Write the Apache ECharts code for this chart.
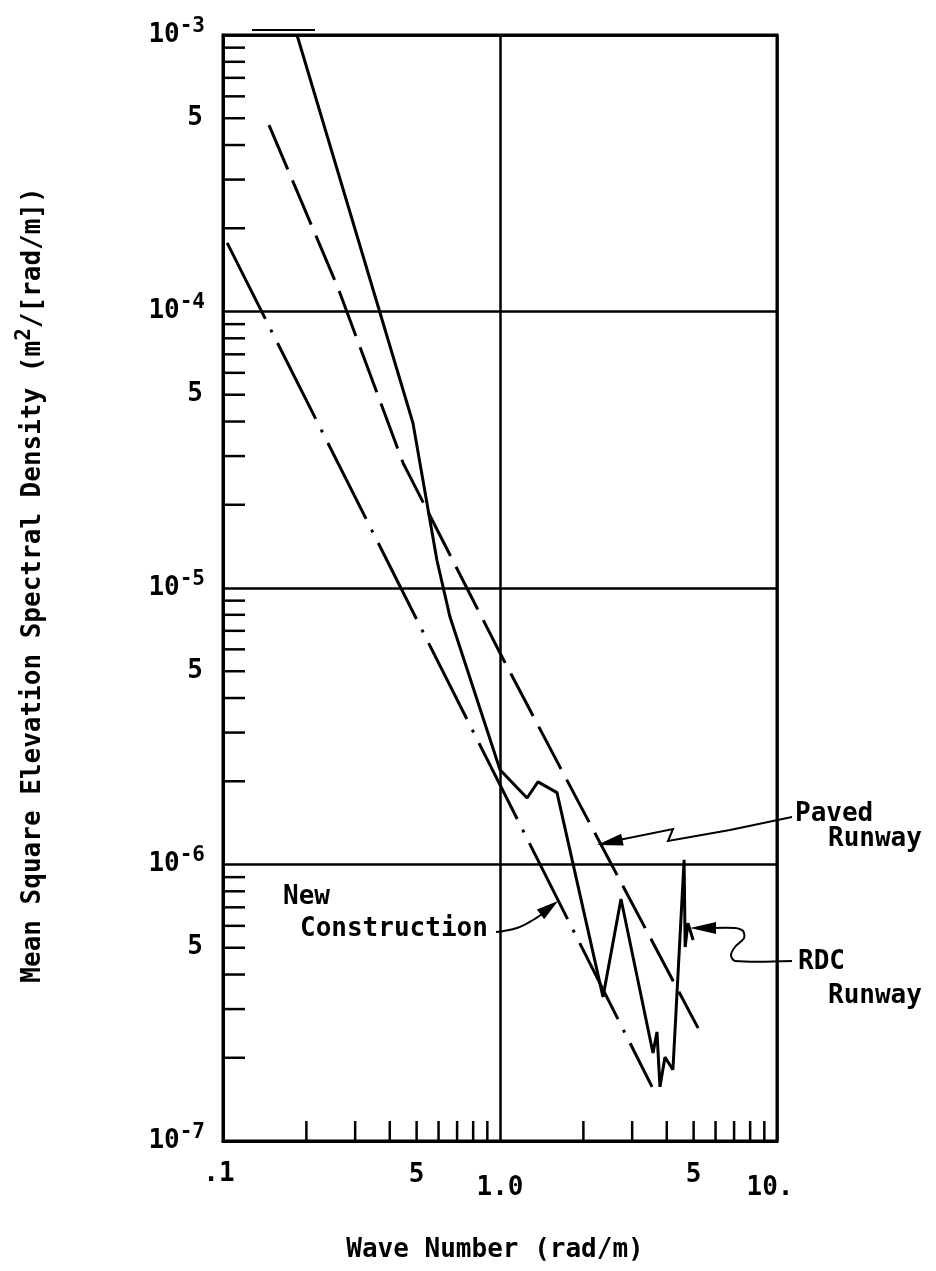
<!DOCTYPE html>
<html><head><meta charset="utf-8">
<script src="https://cdn.jsdelivr.net/npm/echarts@6/dist/echarts.min.js"></script>
<style>html,body{margin:0;padding:0;background:#fff}#c{width:936px;height:1271px}</style>
</head><body><div id="c"></div>
<script>
// ---------- data ----------
const xTickLabels = ['.1', '1.0', '10.'];
const yTickExponents = ['-7', '-6', '-5', '-4', '-3'];
const minorMantissas = [2, 3, 4, 5, 6, 7, 8, 9];
const xDecades = [0.1, 1];
const yDecades = [1e-7, 1e-6, 1e-5, 1e-4];
const xMidLabels = [0.5, 5];
const yMidLabels = [5e-7, 5e-6, 5e-5, 5e-4];
const midLabelText = '5';

// RDC Runway (solid)
const rdcRunway = [
  [0.185, 1.0e-3], [0.485, 3.95e-5], [0.592, 1.26e-5], [0.66, 7.85e-6],
  [1.0, 2.2e-6], [1.252, 1.74e-6], [1.371, 1.99e-6], [1.606, 1.82e-6],
  [2.354, 3.32e-7], [2.734, 7.5e-7], [3.567, 2.08e-7], [3.687, 2.48e-7],
  [3.78, 1.57e-7], [3.94, 2.01e-7], [4.21, 1.81e-7], [4.62, 1.04e-6],
  [4.66, 5.03e-7], [4.77, 6.14e-7], [4.98, 5.33e-7]
];
// Paved Runway (dashed)
const pavedRunway = [
  [0.1466, 4.72e-4], [0.260, 1.22e-4], [0.447, 2.83e-5], [1.0, 5.82e-6],
  [1.647, 2.25e-6], [5.19, 2.56e-7]
];
// New Construction (dash-dot)
const newConstruction = [[0.1035, 1.77e-4], [3.54, 1.57e-7]];

// ---------- helpers ----------
const FONT = '"DejaVu Sans Mono", "Liberation Mono", monospace';
const FW = 'bold';
const xMinor = [], yMinor = [];
xDecades.forEach(d => minorMantissas.forEach(m => xMinor.push(+(d * m).toPrecision(3))));
yDecades.forEach(d => minorMantissas.forEach(m => yMinor.push(+(d * m).toPrecision(3))));
const X_MIN = 0.1, X_MAX = 10, Y_MIN = 1e-7, Y_MAX = 1e-3;

function arrowHead(tip, from, len, half) {
  const dx = tip[0] - from[0], dy = tip[1] - from[1], d = Math.hypot(dx, dy);
  const ux = dx / d, uy = dy / d, bx = tip[0] - ux * len, by = tip[1] - uy * len;
  return { type: 'polygon', shape: { points: [tip, [bx - uy * half, by + ux * half], [bx + uy * half, by - ux * half]] },
           style: { fill: '#000' }, z: 100 };
}
function leader(points, smooth) {
  return { type: 'polyline', shape: { points: points, smooth: smooth || 0 },
           style: { stroke: '#000', lineWidth: 2, fill: null }, z: 100 };
}
function label(text, x, y) {
  return { type: 'text', x: x, y: y, z: 100,
           style: { text: text, fill: '#000', fontSize: 26, fontWeight: FW, fontFamily: FONT, align: 'left', verticalAlign: 'middle' } };
}

const chart = echarts.init(document.getElementById('c'), null, { renderer: 'canvas' });
const lineStyleTick = { stroke: '#000', lineWidth: 2.5 };
const txt = (size, extra) => Object.assign({ fontSize: size, fontFamily: FONT, fontWeight: FW, color: '#000' }, extra || {});

const option = {
  animation: false,
  backgroundColor: '#fff',
  grid: { left: 223, right: 159, top: 35, bottom: 130, show: true, borderColor: '#000', borderWidth: 3,
          containLabel: false, outerBoundsMode: 'none' },
  xAxis: {
    type: 'log', logBase: 10, min: X_MIN, max: X_MAX,
    axisLine: { show: true, lineStyle: { color: '#000', width: 3 } },
    axisTick: { show: false },
    splitLine: { show: true, lineStyle: { color: '#000', width: 2.5 } },
    axisLabel: {
      margin: 20, color: '#000',
      formatter: (v, i) => ['{a|', '{c|', '{d|'][i] + xTickLabels[i] + '}',
      rich: {
        a: txt(26, { padding: [0, 8, 0, 0] }),
        c: txt(26, { padding: [14, 0, 0, 0] }),
        d: txt(26, { padding: [14, 14, 0, 0] })
      }
    }
  },
  yAxis: {
    type: 'log', logBase: 10, min: Y_MIN, max: Y_MAX,
    axisLine: { show: true, lineStyle: { color: '#000', width: 3 } },
    axisTick: { show: false },
    splitLine: { show: true, lineStyle: { color: '#000', width: 2.5 } },
    axisLabel: {
      margin: 18, color: '#000',
      formatter: (v, i) => '{b|10}{s|' + yTickExponents[i] + '}',
      rich: {
        b: txt(26, { verticalAlign: 'middle', lineHeight: 38 }),
        s: txt(21, { verticalAlign: 'top', lineHeight: 20 })
      }
    }
  },
  series: [
    { name: 'RDC Runway', type: 'line', data: rdcRunway, symbol: 'none', z: 5,
      lineStyle: { color: '#000', width: 3, type: 'solid' } },
    { name: 'Paved Runway', type: 'line', data: pavedRunway, symbol: 'none', z: 5,
      lineStyle: { color: '#000', width: 3, type: [48, 12] } },
    { name: 'New Construction', type: 'line', data: newConstruction, symbol: 'none', z: 5,
      lineStyle: { color: '#000', width: 3, type: [85, 12, 3, 12] } },
    { type: 'custom', clip: false, z: 6, silent: true, data: yMinor.map(v => [X_MIN, v]),
      renderItem: (p, api) => { const c = api.coord([api.value(0), api.value(1)]);
        return { type: 'line', shape: { x1: c[0], y1: c[1], x2: c[0] + 22, y2: c[1] }, style: lineStyleTick }; } },
    { type: 'custom', clip: false, z: 6, silent: true, data: xMinor.map(v => [v, Y_MIN]),
      renderItem: (p, api) => { const c = api.coord([api.value(0), api.value(1)]);
        return { type: 'line', shape: { x1: c[0], y1: c[1], x2: c[0], y2: c[1] - 20 }, style: lineStyleTick }; } },
    { type: 'custom', clip: false, z: 6, silent: true, data: yMidLabels.map(v => [X_MIN, v]),
      renderItem: (p, api) => { const c = api.coord([api.value(0), api.value(1)]);
        return { type: 'text', x: c[0] - 20, y: c[1],
          style: { text: midLabelText, fontSize: 26, fontWeight: FW, fontFamily: FONT, fill: '#000', align: 'right', verticalAlign: 'middle' } }; } },
    { type: 'custom', clip: false, z: 6, silent: true, data: xMidLabels.map(v => [v, Y_MIN]),
      renderItem: (p, api) => { const c = api.coord([api.value(0), api.value(1)]);
        return { type: 'text', x: c[0], y: c[1] + 21,
          style: { text: midLabelText, fontSize: 26, fontWeight: FW, fontFamily: FONT, fill: '#000', align: 'center', verticalAlign: 'top' } }; } }
  ],
  graphic: [
    { type: 'text', x: 33, y: 585, rotation: Math.PI / 2, z: 100,
      style: { text: '{a|Mean Square Elevation Spectral Density (m}{s|2}{a|/[rad/m])}', align: 'center', verticalAlign: 'middle',
        rich: { a: { fontSize: 26, fontWeight: FW, fontFamily: FONT, fill: '#000', verticalAlign: 'middle', lineHeight: 38 },
                s: { fontSize: 21, fontWeight: FW, fontFamily: FONT, fill: '#000', verticalAlign: 'top', lineHeight: 20 } } } },
    { type: 'text', x: 495, y: 1250, z: 100,
      style: { text: 'Wave Number (rad/m)', fontSize: 26, fontWeight: FW, fontFamily: FONT, fill: '#000', align: 'center', verticalAlign: 'middle' } },
    { type: 'line', shape: { x1: 252, y1: 30, x2: 315, y2: 30 }, style: { stroke: '#000', lineWidth: 2 }, z: 100 },
    label('Paved', 795, 814), label('Runway', 828, 839),
    label('RDC', 798, 962), label('Runway', 828, 996),
    label('New', 283, 897), label('Construction', 300, 929),
    leader([[792, 817], [730, 830], [668, 841], [673, 829], [604, 843]]),
    arrowHead([597, 845], [673, 829], 26, 6),
    leader([[496, 932], [517, 928], [533, 920], [549, 909], [553, 905]], 0.4),
    arrowHead([558, 901], [541, 914], 22, 6),
    leader([[792, 961], [735, 961], [731, 955], [735, 947], [744, 938], [743, 931], [735, 928], [712, 928]], 0.3),
    arrowHead([690, 928], [730, 928], 26, 6)
  ]
};
chart.setOption(option);
</script></body></html>
